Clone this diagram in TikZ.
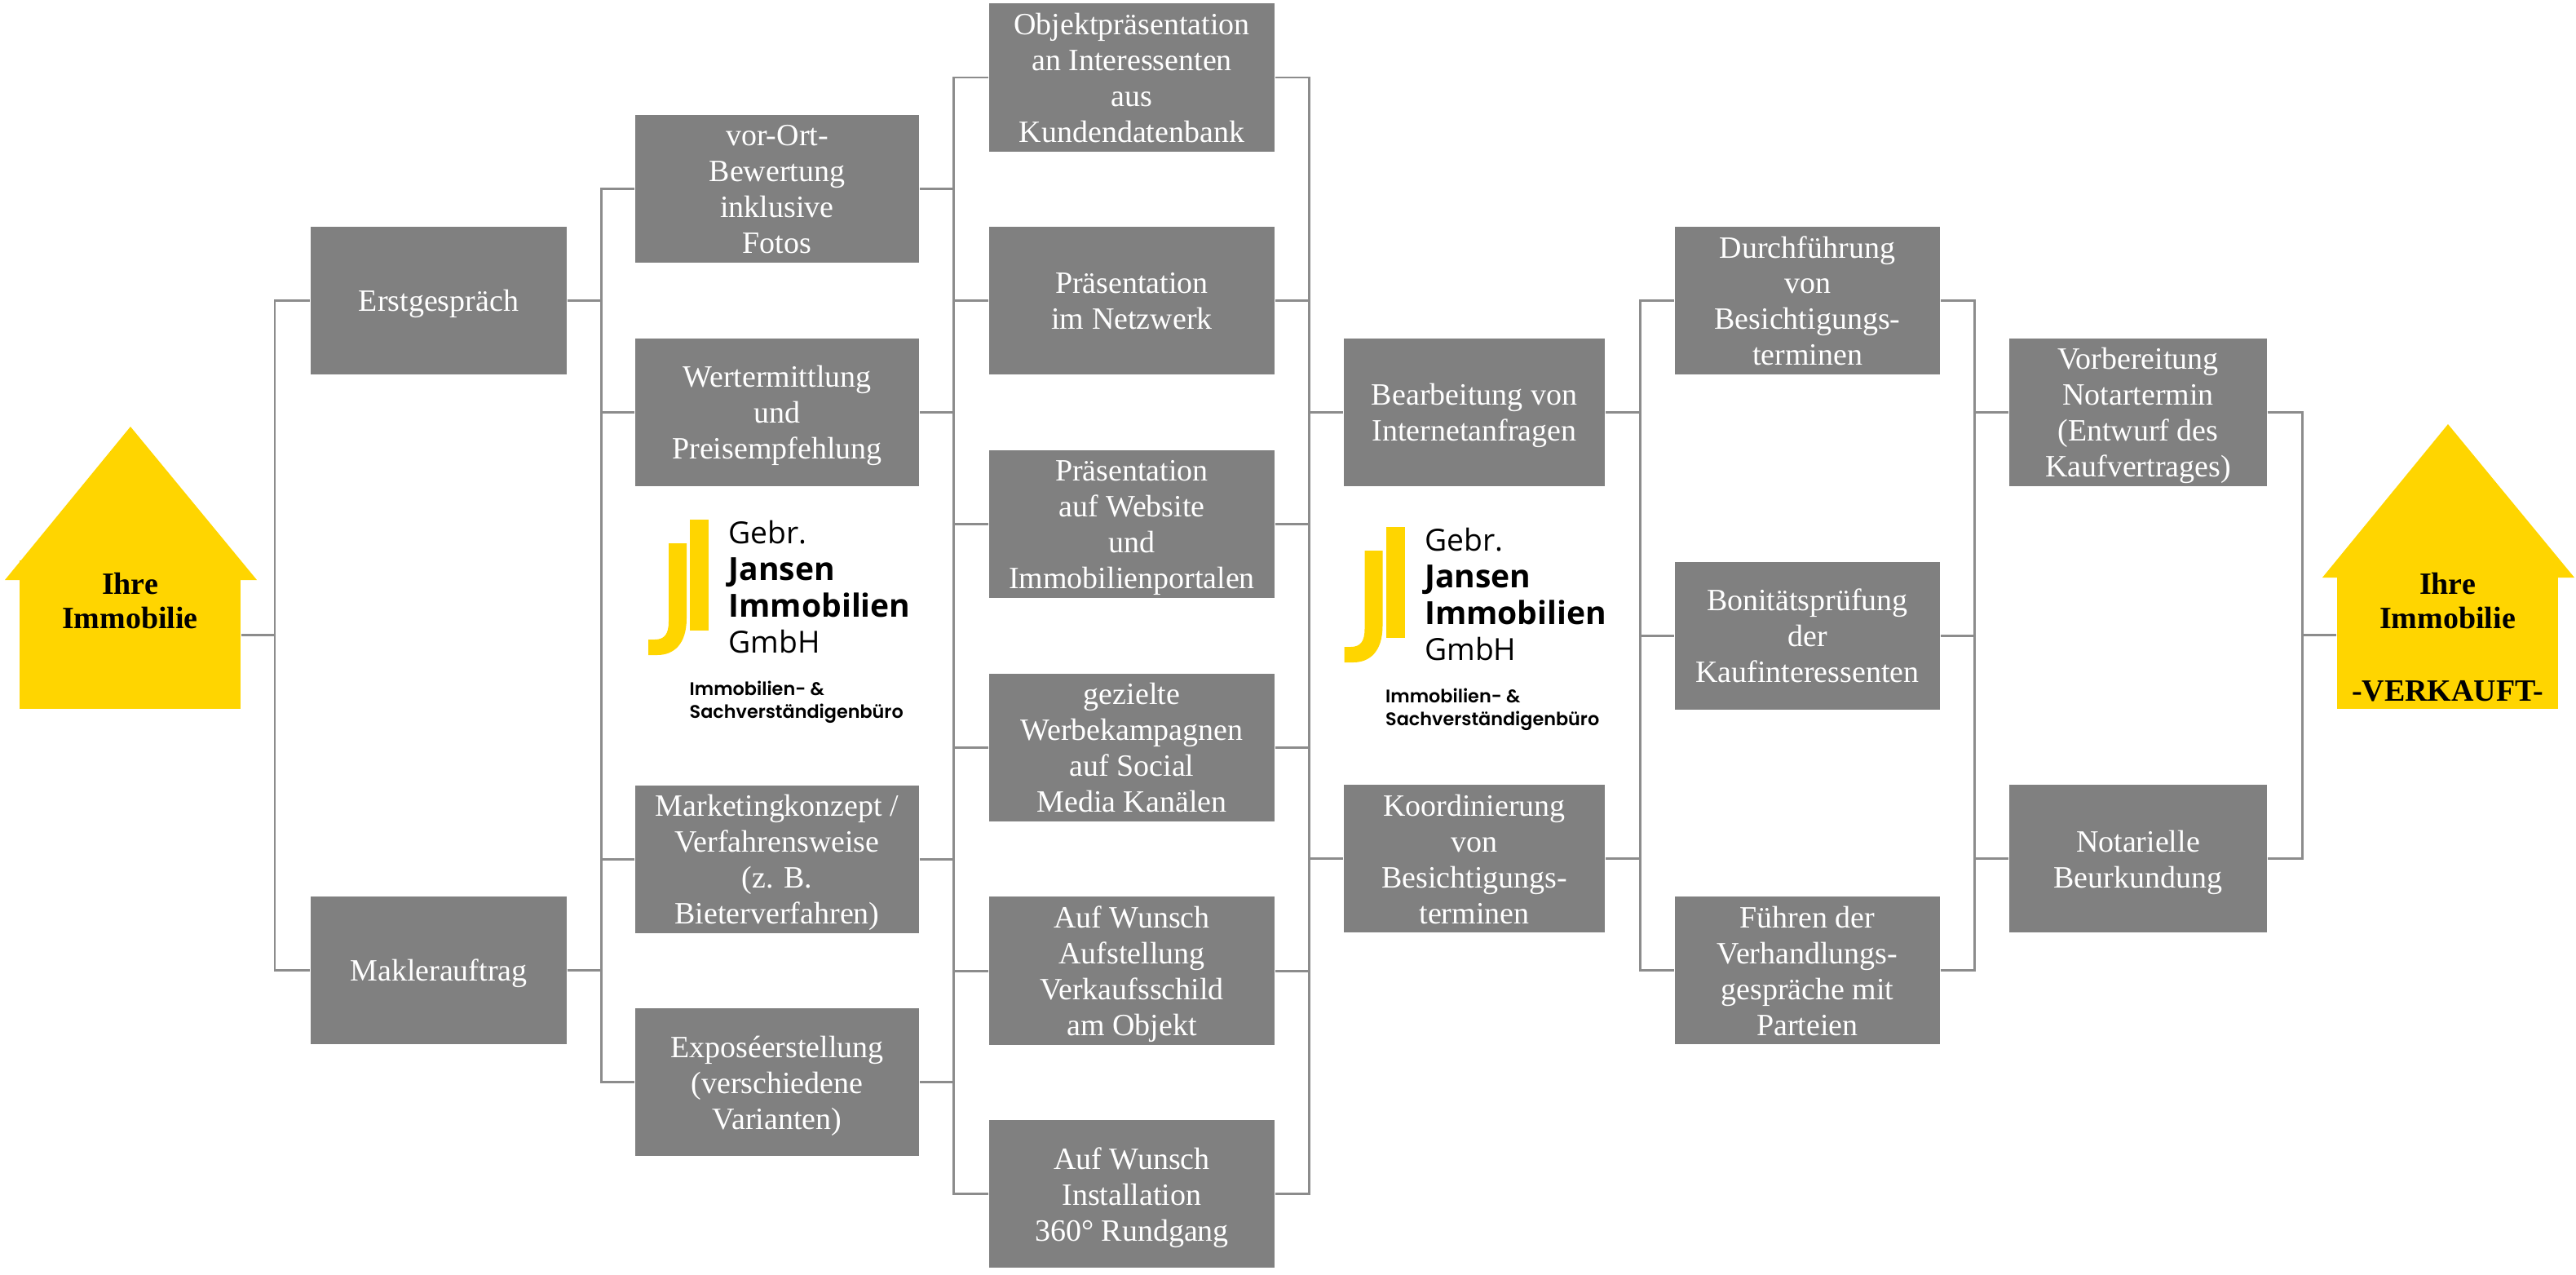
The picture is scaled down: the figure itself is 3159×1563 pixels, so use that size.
\documentclass[tikz,border=0pt]{standalone}
\usepackage{fontspec}
\setmainfont{Liberation Serif}
\newfontfamily\logofont{Open Sans}
\newfontfamily\logosub{Poppins SemiBold}
\usepackage{tikz}
\usetikzlibrary{calc, positioning}

\definecolor{boxgrau}{HTML}{808080}
\definecolor{liniengrau}{HTML}{8C8C8C}
\definecolor{hausgelb}{HTML}{FFD500}

\tikzset{
	box/.style={rectangle, fill=boxgrau, text=white, align=center, inner sep=0pt,
		minimum height=1.81cm, minimum width=#1, font=\fontsize{10.8}{12.5}\selectfont},
	schritt/.style={box=#1, text depth=0pt},
	einzeiler/.style={box=#1,
		execute at begin node={\rule{0pt}{0.9em}}, execute at end node={\rule[-0.2em]{0pt}{0.2em}}},
	wand/.style={rectangle, fill=hausgelb, inner sep=0pt, minimum width=2.71cm, minimum height=1.81cm},
	haustext/.style={anchor=north, align=center, inner sep=0pt, text=black,
		font=\fontsize{10.8}{12.2}\selectfont\bfseries},
	verbinder/.style={draw=liniengrau, line width=0.85pt},
	logotext/.style={anchor=base west, inner sep=0pt, text=black, font=\fontsize{10.6}{12.5}\logofont\selectfont},
	logofett/.style={logotext, font=\fontsize{11.1}{12.5}\logofont\bfseries\selectfont},
	logoklein/.style={anchor=base west, inner sep=0pt, text=black, font=\fontsize{6.35}{8}\logosub\selectfont},
	jansenlogo/.pic={
		\fill[hausgelb] (846,637) rectangle (869,773);
		\fill[hausgelb] (820,666) -- (842,666) -- (842,758) .. controls (842,790) and (826,803) .. (806,803)
			-- (795,803) -- (795,784) -- (803,784) .. controls (815,784) and (820,777) .. (820,762) -- cycle;
		\node[logotext] (gebr) at (893,666) {Gebr.};
		\node[logofett] (jansen) at (893,711) {Jansen};
		\node[logofett] (immo) at (893,756) {Immobilien};
		\node[logotext] (gmbh) at (893,800) {GmbH};
		\node[logoklein] (immoklein) at (845,852) {Immobilien- \&};
		\node[logoklein] (sachv) at (845,880) {Sachverständigenbüro};
	}
}

\begin{document}
\begin{tikzpicture}[x=0.01cm, y=-0.01cm, node distance=2.736cm]
	\useasboundingbox (0,0) rectangle (3159,1563);

	% Haus links
	\fill[hausgelb] (6,711) -- (160,523) -- (315,711) -- cycle;
	\node[wand] (start) at (159.5,778) {};
	\node[haustext] (starttext) at (159.5,701) {Ihre\\Immobilie};

	% Haus rechts
	\fill[hausgelb] (2848,708) -- (3002,520) -- (3157,708) -- cycle;
	\node[wand] (ziel) at (3001.5,778) {};
	\node[haustext] (zieltext) at (3001.5,701) {Ihre\\Immobilie\\[1.21em]-VERKAUFT-};

	% Spalte 1
	\node[einzeiler=3.14cm] (erst) at (538,368.6) {Erstgespräch};
	\node[einzeiler=3.14cm, below of=erst, node distance=8.208cm] (makler) {Maklerauftrag};

	% Spalte 2
	\node[schritt=3.485cm] (vor) at (953,231.8) {vor-Ort-\\Bewertung\\inklusive\\Fotos};
	\node[schritt=3.485cm, below of=vor] (wert) {Wertermittlung\\und\\Preisempfehlung};
	\node[schritt=3.485cm, below of=wert, node distance=5.472cm] (mark) {Marketingkonzept /\\Verfahrensweise\\(z. B.\\Bieterverfahren)};
	\node[schritt=3.485cm, below of=mark] (expo) {Exposéerstellung\\(verschiedene\\Varianten)};

	% Spalte 3
	\node[schritt=3.505cm] (objekt) at (1388,95) {Objektpräsentation\\an Interessenten\\aus\\Kundendatenbank};
	\node[schritt=3.505cm, below of=objekt] (netz) {Präsentation\\im Netzwerk};
	\node[schritt=3.505cm, below of=netz] (web) {Präsentation\\auf Website\\und\\Immobilienportalen};
	\node[schritt=3.505cm, below of=web] (social) {gezielte\\Werbekampagnen\\auf Social\\Media Kanälen};
	\node[schritt=3.505cm, below of=social] (schild) {Auf Wunsch\\Aufstellung\\Verkaufsschild\\am Objekt};
	\node[schritt=3.505cm, below of=schild] (rund) {Auf Wunsch\\Installation\\360° Rundgang};

	% Spalte 4
	\node[schritt=3.205cm] (anfrage) at (1808,505.4) {Bearbeitung von\\Internetanfragen};
	\node[schritt=3.205cm, below of=anfrage, node distance=5.472cm] (koord) {Koordinierung\\von\\Besichtigungs-\\terminen};

	% Spalte 5
	\node[schritt=3.25cm] (durch) at (2216.5,368.6) {Durchführung\\von\\Besichtigungs-\\terminen};
	\node[schritt=3.25cm, below of=durch, node distance=4.104cm] (boni) {Bonitätsprüfung\\der\\Kaufinteressenten};
	\node[schritt=3.25cm, below of=boni, node distance=4.104cm] (verhand) {Führen der\\Verhandlungs-\\gespräche mit\\Parteien};

	% Spalte 6
	\node[schritt=3.16cm] (notar) at (2622,505.4) {Vorbereitung\\Notartermin\\(Entwurf des\\Kaufvertrages)};
	\node[schritt=3.16cm, below of=notar, node distance=5.472cm] (beurk) {Notarielle\\Beurkundung};

	% Logos
	\pic (logoa) at (0,0) {jansenlogo};
	\pic (logob) at (853.5,9) {jansenlogo};

	% Verbinder
	\coordinate (bus1) at (337,0);
	\coordinate (bus2) at (737,0);
	\coordinate (bus3) at (1169,0);
	\coordinate (bus4) at (1605,0);
	\coordinate (bus5) at (2011,0);
	\coordinate (bus6) at (2421,0);
	\coordinate (bus7) at (2823,0);

	\foreach \to in {erst,makler}
	\draw[verbinder] (start.east) -- (start.east -| bus1) |- (\to.west);

	\foreach \from in {erst,makler}
	\foreach \to in {vor,wert,mark,expo}
	\draw[verbinder] (\from.east) -- (\from.east -| bus2) |- (\to.west);

	\foreach \from in {vor,wert,mark,expo}
	\foreach \to in {objekt,netz,web,social,schild,rund}
	\draw[verbinder] (\from.east) -- (\from.east -| bus3) |- (\to.west);

	\foreach \from in {objekt,netz,web,social,schild,rund}
	\foreach \to in {anfrage,koord}
	\draw[verbinder] (\from.east) -- (\from.east -| bus4) |- (\to.west);

	\foreach \from in {anfrage,koord}
	\foreach \to in {durch,boni,verhand}
	\draw[verbinder] (\from.east) -- (\from.east -| bus5) |- (\to.west);

	\foreach \from in {durch,boni,verhand}
	\foreach \to in {notar,beurk}
	\draw[verbinder] (\from.east) -- (\from.east -| bus6) |- (\to.west);

	\foreach \from in {notar,beurk}
	\draw[verbinder] (\from.east) -- (\from.east -| bus7) |- (ziel.west);
\end{tikzpicture}
\end{document}
